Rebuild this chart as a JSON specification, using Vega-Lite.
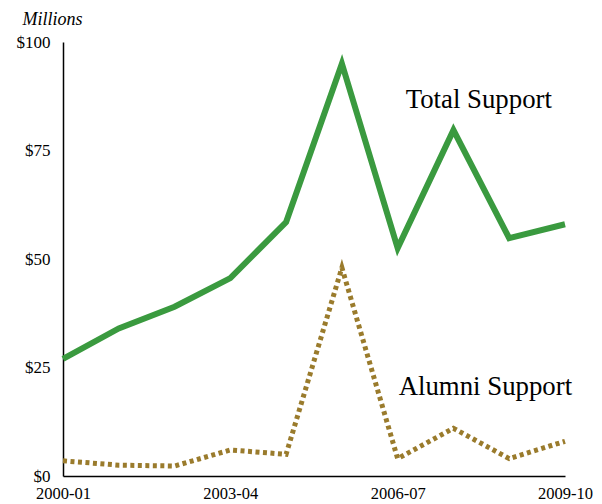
{
  "$schema": "https://vega.github.io/schema/vega-lite/v6.json",
  "width": 502,
  "height": 434,
  "autosize": "none",
  "padding": {"left": 63, "top": 42, "right": 37, "bottom": 28},
  "background": "white",
  "config": {
    "view": {"stroke": null},
    "font": "Liberation Serif"
  },
  "datasets": {
    "series": [
      {"year": "2000-01", "series": "Total Support", "value": 27},
      {"year": "2001-02", "series": "Total Support", "value": 34},
      {"year": "2002-03", "series": "Total Support", "value": 39},
      {"year": "2003-04", "series": "Total Support", "value": 45.6},
      {"year": "2004-05", "series": "Total Support", "value": 58.5},
      {"year": "2005-06", "series": "Total Support", "value": 95},
      {"year": "2006-07", "series": "Total Support", "value": 52.5},
      {"year": "2007-08", "series": "Total Support", "value": 79.7},
      {"year": "2008-09", "series": "Total Support", "value": 54.8},
      {"year": "2009-10", "series": "Total Support", "value": 58},
      {"year": "2000-01", "series": "Alumni Support", "value": 3.5},
      {"year": "2001-02", "series": "Alumni Support", "value": 2.5},
      {"year": "2002-03", "series": "Alumni Support", "value": 2.3},
      {"year": "2003-04", "series": "Alumni Support", "value": 6},
      {"year": "2004-05", "series": "Alumni Support", "value": 5},
      {"year": "2005-06", "series": "Alumni Support", "value": 48},
      {"year": "2006-07", "series": "Alumni Support", "value": 4},
      {"year": "2007-08", "series": "Alumni Support", "value": 11},
      {"year": "2008-09", "series": "Alumni Support", "value": 4},
      {"year": "2009-10", "series": "Alumni Support", "value": 8}
    ],
    "labels": [
      {"year": "2006-07", "value": 84.8, "label": "Total Support"},
      {"year": "2006-07", "value": 18.7, "label": "Alumni Support"}
    ]
  },
  "encoding": {
    "x": {
      "field": "year", "type": "ordinal",
      "scale": {"type": "point", "padding": 0},
      "axis": {
        "values": ["2000-01", "2003-04", "2006-07", "2009-10"],
        "title": null, "ticks": false, "grid": false,
        "domainColor": "black", "domainWidth": 1.5,
        "labelAngle": 0, "labelFontSize": 16.5, "labelColor": "black",
        "labelPadding": 9, "labelFont": "Liberation Serif"
      }
    },
    "y": {
      "field": "value", "type": "quantitative",
      "scale": {"domain": [0, 100], "nice": false, "zero": true},
      "axis": {
        "values": [0, 25, 50, 75, 100],
        "format": "$d",
        "title": "Millions", "titleAngle": 0, "titleFontStyle": "italic",
        "titleFontWeight": "normal", "titleFontSize": 18, "titleColor": "black",
        "titleAlign": "left", "titleBaseline": "alphabetic",
        "titleX": -41, "titleY": -18, "titleFont": "Liberation Serif",
        "ticks": false, "grid": false,
        "domainColor": "black", "domainWidth": 1.5,
        "labelFontSize": 17, "labelColor": "black", "labelPadding": 13,
        "labelFont": "Liberation Serif"
      }
    }
  },
  "layer": [
    {
      "data": {"name": "series"},
      "mark": {"type": "line", "strokeWidth": 6, "strokeJoin": "miter"},
      "transform": [{"filter": "datum.series === 'Total Support'"}],
      "encoding": {"color": {"value": "#3a9a3f"}}
    },
    {
      "data": {"name": "series"},
      "mark": {"type": "line", "strokeWidth": 5, "strokeDash": [4, 3.5], "strokeJoin": "miter"},
      "transform": [{"filter": "datum.series === 'Alumni Support'"}],
      "encoding": {"color": {"value": "#9a7b2c"}}
    },
    {
      "data": {"name": "labels"},
      "transform": [{"filter": "datum.label === 'Total Support'"}],
      "mark": {"type": "text", "align": "left", "baseline": "alphabetic", "dx": 8, "fontSize": 26.8, "color": "black", "font": "Liberation Serif"},
      "encoding": {"text": {"field": "label"}}
    },
    {
      "data": {"name": "labels"},
      "transform": [{"filter": "datum.label === 'Alumni Support'"}],
      "mark": {"type": "text", "align": "left", "baseline": "alphabetic", "dx": 1, "fontSize": 26.8, "color": "black", "font": "Liberation Serif"},
      "encoding": {"text": {"field": "label"}}
    }
  ]
}
